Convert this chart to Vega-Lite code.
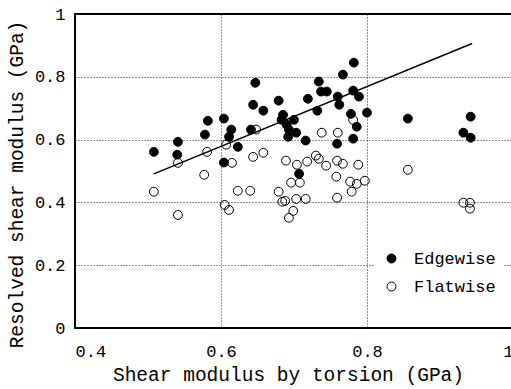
{
  "$schema": "https://vega.github.io/schema/vega-lite/v6.json",
  "width": 438,
  "height": 314,
  "autosize": {"type": "none"},
  "padding": {"left": 75, "top": 14, "right": 0, "bottom": 61},
  "background": "white",
  "config": {
    "view": {"stroke": "black", "strokeWidth": 2},
    "font": "Liberation Mono",
    "axis": {
      "domain": false,
      "ticks": false,
      "grid": true,
      "gridColor": "black",
      "gridDash": [1, 2],
      "gridWidth": 1,
      "gridOpacity": 0.85,
      "labelFont": "Liberation Mono",
      "labelFontSize": 17,
      "labelColor": "black",
      "titleFont": "Liberation Mono",
      "titleFontSize": 19.5,
      "titleFontWeight": "normal",
      "titleColor": "black"
    }
  },
  "datasets": {
    "points": [
      {"x": 0.508, "y": 0.561, "type": "Edgewise"},
      {"x": 0.541, "y": 0.593, "type": "Edgewise"},
      {"x": 0.540, "y": 0.552, "type": "Edgewise"},
      {"x": 0.578, "y": 0.616, "type": "Edgewise"},
      {"x": 0.582, "y": 0.660, "type": "Edgewise"},
      {"x": 0.604, "y": 0.667, "type": "Edgewise"},
      {"x": 0.614, "y": 0.632, "type": "Edgewise"},
      {"x": 0.611, "y": 0.609, "type": "Edgewise"},
      {"x": 0.623, "y": 0.577, "type": "Edgewise"},
      {"x": 0.604, "y": 0.527, "type": "Edgewise"},
      {"x": 0.644, "y": 0.711, "type": "Edgewise"},
      {"x": 0.647, "y": 0.781, "type": "Edgewise"},
      {"x": 0.641, "y": 0.632, "type": "Edgewise"},
      {"x": 0.658, "y": 0.692, "type": "Edgewise"},
      {"x": 0.679, "y": 0.724, "type": "Edgewise"},
      {"x": 0.685, "y": 0.679, "type": "Edgewise"},
      {"x": 0.683, "y": 0.663, "type": "Edgewise"},
      {"x": 0.690, "y": 0.647, "type": "Edgewise"},
      {"x": 0.693, "y": 0.632, "type": "Edgewise"},
      {"x": 0.700, "y": 0.663, "type": "Edgewise"},
      {"x": 0.703, "y": 0.622, "type": "Edgewise"},
      {"x": 0.692, "y": 0.609, "type": "Edgewise"},
      {"x": 0.716, "y": 0.597, "type": "Edgewise"},
      {"x": 0.707, "y": 0.491, "type": "Edgewise"},
      {"x": 0.719, "y": 0.730, "type": "Edgewise"},
      {"x": 0.732, "y": 0.692, "type": "Edgewise"},
      {"x": 0.734, "y": 0.785, "type": "Edgewise"},
      {"x": 0.737, "y": 0.753, "type": "Edgewise"},
      {"x": 0.745, "y": 0.753, "type": "Edgewise"},
      {"x": 0.760, "y": 0.737, "type": "Edgewise"},
      {"x": 0.762, "y": 0.711, "type": "Edgewise"},
      {"x": 0.767, "y": 0.807, "type": "Edgewise"},
      {"x": 0.782, "y": 0.845, "type": "Edgewise"},
      {"x": 0.781, "y": 0.756, "type": "Edgewise"},
      {"x": 0.789, "y": 0.737, "type": "Edgewise"},
      {"x": 0.778, "y": 0.682, "type": "Edgewise"},
      {"x": 0.786, "y": 0.641, "type": "Edgewise"},
      {"x": 0.781, "y": 0.603, "type": "Edgewise"},
      {"x": 0.759, "y": 0.587, "type": "Edgewise"},
      {"x": 0.800, "y": 0.686, "type": "Edgewise"},
      {"x": 0.856, "y": 0.667, "type": "Edgewise"},
      {"x": 0.942, "y": 0.673, "type": "Edgewise"},
      {"x": 0.932, "y": 0.622, "type": "Edgewise"},
      {"x": 0.942, "y": 0.606, "type": "Edgewise"},
      {"x": 0.508, "y": 0.434, "type": "Flatwise"},
      {"x": 0.541, "y": 0.526, "type": "Flatwise"},
      {"x": 0.541, "y": 0.360, "type": "Flatwise"},
      {"x": 0.581, "y": 0.561, "type": "Flatwise"},
      {"x": 0.577, "y": 0.488, "type": "Flatwise"},
      {"x": 0.607, "y": 0.584, "type": "Flatwise"},
      {"x": 0.615, "y": 0.526, "type": "Flatwise"},
      {"x": 0.605, "y": 0.392, "type": "Flatwise"},
      {"x": 0.611, "y": 0.376, "type": "Flatwise"},
      {"x": 0.623, "y": 0.437, "type": "Flatwise"},
      {"x": 0.640, "y": 0.437, "type": "Flatwise"},
      {"x": 0.644, "y": 0.545, "type": "Flatwise"},
      {"x": 0.658, "y": 0.558, "type": "Flatwise"},
      {"x": 0.648, "y": 0.632, "type": "Flatwise"},
      {"x": 0.689, "y": 0.533, "type": "Flatwise"},
      {"x": 0.704, "y": 0.520, "type": "Flatwise"},
      {"x": 0.718, "y": 0.530, "type": "Flatwise"},
      {"x": 0.730, "y": 0.549, "type": "Flatwise"},
      {"x": 0.734, "y": 0.539, "type": "Flatwise"},
      {"x": 0.744, "y": 0.517, "type": "Flatwise"},
      {"x": 0.759, "y": 0.533, "type": "Flatwise"},
      {"x": 0.767, "y": 0.523, "type": "Flatwise"},
      {"x": 0.788, "y": 0.520, "type": "Flatwise"},
      {"x": 0.696, "y": 0.463, "type": "Flatwise"},
      {"x": 0.708, "y": 0.463, "type": "Flatwise"},
      {"x": 0.758, "y": 0.482, "type": "Flatwise"},
      {"x": 0.777, "y": 0.466, "type": "Flatwise"},
      {"x": 0.786, "y": 0.459, "type": "Flatwise"},
      {"x": 0.779, "y": 0.434, "type": "Flatwise"},
      {"x": 0.797, "y": 0.469, "type": "Flatwise"},
      {"x": 0.679, "y": 0.434, "type": "Flatwise"},
      {"x": 0.684, "y": 0.402, "type": "Flatwise"},
      {"x": 0.688, "y": 0.405, "type": "Flatwise"},
      {"x": 0.703, "y": 0.411, "type": "Flatwise"},
      {"x": 0.716, "y": 0.411, "type": "Flatwise"},
      {"x": 0.699, "y": 0.373, "type": "Flatwise"},
      {"x": 0.693, "y": 0.351, "type": "Flatwise"},
      {"x": 0.759, "y": 0.415, "type": "Flatwise"},
      {"x": 0.738, "y": 0.622, "type": "Flatwise"},
      {"x": 0.760, "y": 0.622, "type": "Flatwise"},
      {"x": 0.781, "y": 0.663, "type": "Flatwise"},
      {"x": 0.856, "y": 0.504, "type": "Flatwise"},
      {"x": 0.932, "y": 0.399, "type": "Flatwise"},
      {"x": 0.941, "y": 0.399, "type": "Flatwise"},
      {"x": 0.941, "y": 0.380, "type": "Flatwise"}
    ],
    "fit": [
      {"x": 0.508, "y": 0.491},
      {"x": 0.944, "y": 0.906}
    ]
  },
  "layer": [
    {
      "data": {"name": "points"},
      "mark": {"type": "point", "shape": "circle", "size": 78, "stroke": "black", "strokeWidth": 1, "opacity": 1},
      "encoding": {
        "x": {
          "field": "x", "type": "quantitative",
          "scale": {"domain": [0.4, 1.0], "nice": false, "zero": false},
          "axis": {"values": [0.4, 0.6, 0.8, 1.0], "format": ".1~f", "labelPadding": 15, "title": "Shear modulus by torsion (GPa)", "titlePadding": 6, "titleX": 213}
        },
        "y": {
          "field": "y", "type": "quantitative",
          "scale": {"domain": [0, 1], "nice": false},
          "axis": {"values": [0, 0.2, 0.4, 0.6, 0.8, 1.0], "format": ".1~f", "labelPadding": 10, "title": "Resolved shear modulus (GPa)", "titlePadding": 8, "titleY": 170}
        },
        "fill": {
          "field": "type", "type": "nominal",
          "scale": {"domain": ["Edgewise", "Flatwise"], "range": ["black", "transparent"]},
          "legend": {
            "title": null,
            "orient": "none",
            "legendX": 300,
            "legendY": 228,
            "padding": 8,
            "fillColor": "white",
            "rowPadding": 10,
            "labelFont": "Liberation Mono",
            "labelFontSize": 17,
            "labelColor": "black",
            "labelOffset": 14,
            "symbolType": "circle",
            "symbolSize": 80,
            "symbolStrokeColor": "black",
            "symbolStrokeWidth": 1
          }
        }
      }
    },
    {
      "data": {"name": "fit"},
      "mark": {"type": "line", "color": "black", "strokeWidth": 1.5},
      "encoding": {
        "x": {"field": "x", "type": "quantitative"},
        "y": {"field": "y", "type": "quantitative"}
      }
    }
  ]
}
